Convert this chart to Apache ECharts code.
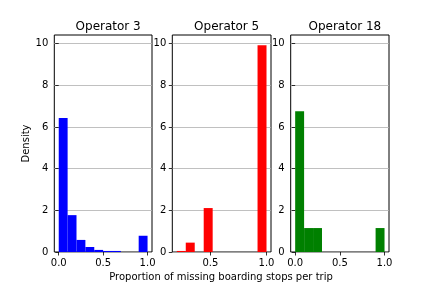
<!DOCTYPE html>
<html>
<head>
<meta charset="utf-8">
<script src="https://cdn.jsdelivr.net/npm/echarts@6/dist/echarts.min.js"></script>
<style>html,body{margin:0;padding:0;background:#fff}#c{width:432px;height:288px}</style>
</head>
<body>
<div id="c"></div>
<script>
// ---- data ----
const titles = ["Operator 3", "Operator 5", "Operator 18"];
const op3Edges = [0, 0.1, 0.2, 0.3, 0.4, 0.5, 0.6, 0.7, 0.8, 0.9, 1.0];
const op3Density = [6.44, 1.77, 0.58, 0.24, 0.10, 0.05, 0.05, 0, 0, 0.78];
const op5Edges = [0.2, 0.28, 0.36, 0.44, 0.52, 0.6, 0.68, 0.76, 0.84, 0.92, 1.0];
const op5Density = [0.05, 0.45, 0, 2.11, 0, 0, 0, 0, 0, 9.93];
const op18Edges = [0, 0.1, 0.2, 0.3, 0.4, 0.5, 0.6, 0.7, 0.8, 0.9, 1.0];
const op18Density = [6.76, 1.15, 1.15, 0, 0, 0, 0, 0, 0, 1.15];
const yTicks = [0, 2, 4, 6, 8, 10];
const xTicksFull = [0, 0.5, 1.0];
const xTicksOp5 = [0.5, 1.0];
const xLabel = "Proportion of missing boarding stops per trip";
const yLabel = "Density";

// ---- layout ----
const panels = [
  {left: 54.3, width: 97.7, xmin: -0.05, xmax: 1.05, ticks: xTicksFull, edges: op3Edges, dens: op3Density, color: '#0000ff'},
  {left: 172.3, width: 98.7, xmin: 0.16, xmax: 1.04, ticks: xTicksOp5, edges: op5Edges, dens: op5Density, color: '#ff0000'},
  {left: 290.7, width: 98.3, xmin: -0.05, xmax: 1.05, ticks: xTicksFull, edges: op18Edges, dens: op18Density, color: '#008000'}
];
const TOP = 35, HEIGHT = 217, YMAX = 10.42;
const FONT = 'DejaVu Sans';

const grid = [], xAxis = [], yAxis = [], series = [], title = [];
panels.forEach((p, i) => {
  grid.push({left: p.left, top: TOP, width: p.width, height: HEIGHT, show: true,
    borderColor: '#000', borderWidth: 1, backgroundColor: 'transparent', containLabel: false});
  xAxis.push({type: 'value', gridIndex: i, min: p.xmin, max: p.xmax,
    axisLine: {show: false},
    axisTick: {show: true, inside: false, length: 3.5, lineStyle: {color: '#000', width: 0.8}, customValues: p.ticks},
    axisLabel: {show: true, margin: 6, color: '#000', fontSize: 10, fontFamily: FONT, customValues: p.ticks,
      formatter: v => Number(v).toFixed(1)},
    splitLine: {show: false}});
  yAxis.push({type: 'value', gridIndex: i, min: 0, max: YMAX, interval: 2,
    name: i === 0 ? yLabel : '', nameLocation: 'middle', nameGap: 22,
    nameTextStyle: {color: '#000', fontSize: 10, fontFamily: FONT},
    axisLine: {show: false},
    axisTick: {show: true, inside: false, length: 3.5, lineStyle: {color: '#000', width: 0.8}, customValues: yTicks},
    axisLabel: {show: true, margin: 6, color: '#000', fontSize: 10, fontFamily: FONT, customValues: yTicks},
    splitLine: {show: true, lineStyle: {color: '#b0b0b0', width: 0.8}, customValues: yTicks}});
  const data = p.dens.map((d, k) => [p.edges[k], p.edges[k + 1], d]);
  series.push({type: 'custom', xAxisIndex: i, yAxisIndex: i, silent: true, z: 3,
    encode: {x: [0, 1], y: 2},
    data: data,
    renderItem: (params, api) => {
      const a = api.coord([api.value(0), api.value(2)]);
      const b = api.coord([api.value(1), 0]);
      return {type: 'rect', shape: {x: a[0], y: a[1], width: b[0] - a[0], height: b[1] - a[1]},
        style: {fill: p.color}};
    }});
  title.push({text: titles[i], left: p.left + p.width / 2, top: 16, textAlign: 'center',
    textStyle: {fontSize: 12, fontWeight: 'normal', color: '#000', fontFamily: FONT}});
});
title.push({text: xLabel, left: 216, top: 267, textAlign: 'center',
  textStyle: {fontSize: 10, fontWeight: 'normal', color: '#000', fontFamily: FONT}});

const chart = echarts.init(document.getElementById('c'), null, {renderer: 'canvas'});
chart.setOption({animation: false, backgroundColor: '#fff', title, grid, xAxis, yAxis, series});
</script>
</body>
</html>
